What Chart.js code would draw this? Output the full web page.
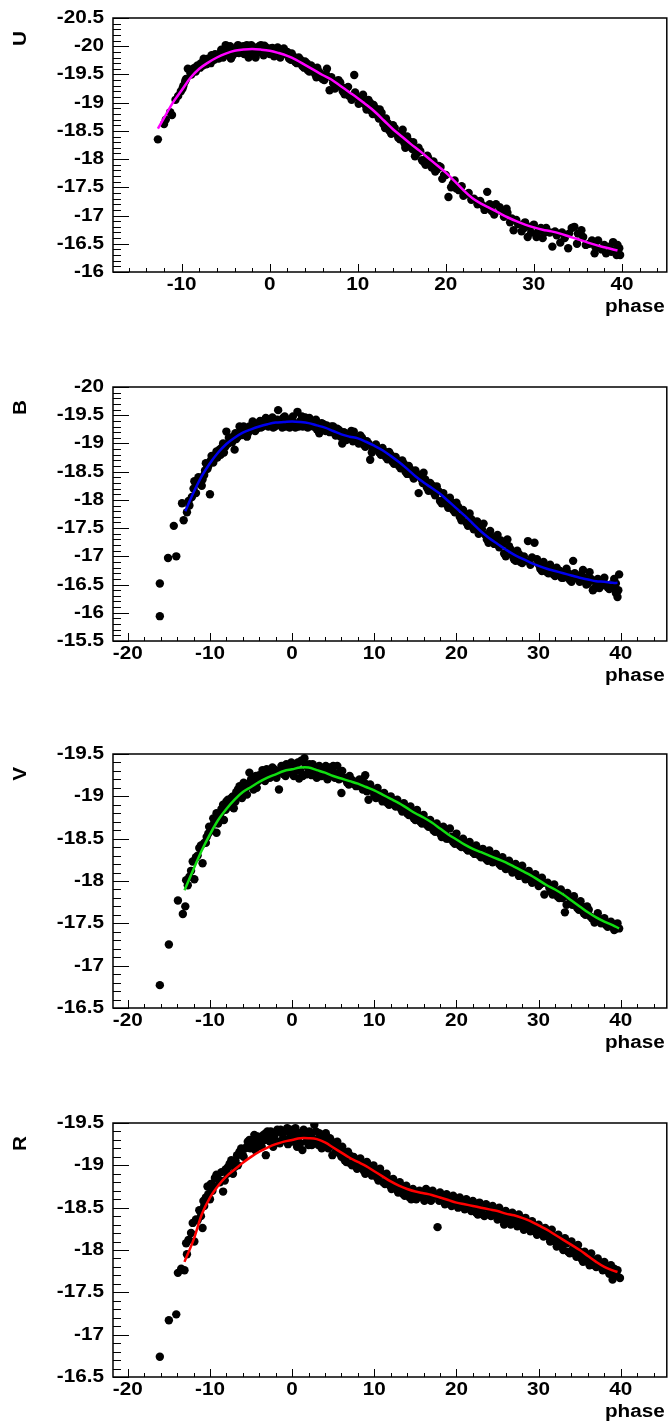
<!DOCTYPE html>
<html>
<head>
<meta charset="utf-8">
<script src="https://cdn.jsdelivr.net/npm/chart.js@4/dist/chart.umd.min.js"></script>
<style>
  html, body { margin: 0; padding: 0; background: #fff; overflow: hidden; }
  body { width: 671px; height: 1426px; position: relative; }
  canvas { position: absolute; left: 0; }
</style>
</head>
<body>
<canvas id="panelU" width="671" height="340" style="top:0px"></canvas>
<canvas id="panelB" width="671" height="340" style="top:369px"></canvas>
<canvas id="panelV" width="671" height="340" style="top:736px"></canvas>
<canvas id="panelR" width="671" height="340" style="top:1105px"></canvas>
<script>
// tick labels
const phaseTicks = [-20, -10, 0, 10, 20, 30, 40];
const uTicks = [-20.5, -20, -19.5, -19, -18.5, -18, -17.5, -17, -16.5, -16];
const bTicks = [-20, -19.5, -19, -18.5, -18, -17.5, -17, -16.5, -16, -15.5];
const vTicks = [-19.5, -19, -18.5, -18, -17.5, -17, -16.5];
const rTicks = [-19.5, -19, -18.5, -18, -17.5, -17, -16.5];

// observations [phase, mag]
const uObs = [[-12.7,-18.35],[-12.0,-18.62],[-11.8,-18.7],[-11.3,-18.83],[-11.1,-18.78],[-10.4,-19.12],[-10.1,-19.2],[-9.8,-19.3],[-9.6,-19.38],[-9.3,-19.6],[-9.0,-19.52],[-8.7,-19.6],[-8.4,-19.55],[-8.2,-19.66],[-7.8,-19.7],[-7.5,-19.78],[-7.2,-19.68],[-6.9,-19.74],[-6.6,-19.84],[-6.3,-19.76],[-6.0,-19.82],[-5.6,-19.88],[-5.3,-19.8],[-5.0,-20.02],[-4.7,-19.95],[-4.4,-19.78],[-4.1,-19.9],[-3.8,-19.96],[-3.5,-19.88],[-3.2,-19.98],[-2.9,-19.86],[-2.6,-20.02],[-2.3,-19.92],[-2.0,-19.84],[-1.8,-19.98],[-1.5,-19.9],[-1.2,-20.0],[-0.9,-19.88],[-0.6,-20.01],[-0.3,-19.93],[0.0,-19.86],[0.3,-19.97],[0.7,-19.9],[1.0,-19.84],[1.4,-19.92],[1.8,-19.86],[2.2,-19.78],[2.5,-19.87],[2.9,-19.72],[3.3,-19.8],[3.7,-19.65],[4.0,-19.73],[4.3,-19.58],[4.7,-19.66],[5.1,-19.52],[5.4,-19.62],[5.8,-19.5],[6.2,-19.4],[6.5,-19.6],[6.8,-19.22],[7.2,-19.35],[7.6,-19.28],[8.0,-19.36],[8.3,-19.2],[8.7,-19.25],[9.0,-19.12],[9.6,-19.49],[9.9,-19.1],[10.3,-19.0],[10.6,-19.14],[10.9,-18.95],[11.2,-19.05],[11.5,-18.86],[11.8,-18.96],[12.2,-18.78],[12.5,-18.88],[12.9,-18.62],[13.2,-18.72],[13.6,-18.5],[14.0,-18.6],[14.4,-18.45],[14.8,-18.35],[15.1,-18.52],[15.4,-18.2],[15.8,-18.32],[16.2,-18.18],[16.5,-18.05],[16.9,-18.2],[17.3,-17.98],[17.7,-17.9],[18.0,-18.02],[18.4,-17.85],[18.8,-17.78],[19.2,-17.88],[19.6,-17.65],[20.0,-17.72],[20.3,-17.33],[20.6,-17.5],[21.0,-17.62],[21.5,-17.45],[22.0,-17.35],[22.6,-17.4],[23.2,-17.3],[23.6,-17.2],[24.2,-17.18],[24.7,-17.42],[25.2,-17.08],[25.7,-17.2],[26.1,-17.15],[26.6,-16.98],[27.0,-17.05],[27.3,-16.88],[27.7,-16.74],[28.2,-16.85],[28.6,-16.72],[29.0,-16.88],[29.3,-16.62],[29.7,-16.7],[30.0,-16.84],[30.5,-16.72],[31.0,-16.6],[31.4,-16.78],[31.8,-16.7],[32.1,-16.45],[32.6,-16.65],[33.0,-16.52],[33.5,-16.6],[33.9,-16.42],[34.3,-16.78],[34.6,-16.8],[35.0,-16.68],[35.4,-16.74],[35.9,-16.48],[36.3,-16.5],[36.9,-16.33],[37.3,-16.56],[37.7,-16.4],[38.2,-16.33],[38.6,-16.45],[39.0,-16.53],[39.2,-16.38],[39.4,-16.3],[39.7,-16.42],[39.8,-16.3],
  [-10.7,-19.05],[-9.9,-19.25],[-9.5,-19.42],[-8.9,-19.5],[-8.5,-19.62],[-7.9,-19.62],[-7.6,-19.66],[-7.0,-19.78],[-6.7,-19.7],[-6.2,-19.86],[-5.8,-19.78],[-5.5,-19.94],[-5.1,-19.85],[-4.8,-19.9],[-4.5,-20.0],[-4.2,-19.84],[-3.9,-19.88],[-3.6,-20.02],[-3.3,-19.9],[-3.0,-20.0],[-2.7,-19.92],[-2.4,-19.8],[-2.1,-20.02],[-1.6,-19.8],[-1.3,-19.94],[-1.0,-20.02],[-0.7,-19.84],[-0.4,-19.98],[0.1,-19.96],[0.5,-19.82],[0.9,-19.98],[1.2,-19.8],[1.6,-19.96],[2.0,-19.9],[2.4,-19.76],[2.7,-19.82],[3.1,-19.7],[3.5,-19.76],[3.9,-19.62],[4.2,-19.7],[4.5,-19.55],[4.9,-19.6],[5.3,-19.45],[5.6,-19.55],[6.0,-19.42],[6.4,-19.5],[7.0,-19.45],[7.4,-19.25],[7.8,-19.4],[8.2,-19.28],[8.5,-19.15],[8.9,-19.28],[9.3,-19.05],[9.7,-19.18],[10.1,-18.98],[10.5,-19.08],[11.0,-18.88],[11.4,-19.0],[11.7,-18.8],[12.0,-18.9],[12.4,-18.72],[12.7,-18.82],[13.1,-18.55],[13.4,-18.64],[13.8,-18.45],[14.2,-18.55],[14.6,-18.38],[15.0,-18.46],[15.3,-18.28],[15.6,-18.4],[16.0,-18.22],[16.3,-18.3],[16.7,-18.1],[17.1,-18.14],[17.5,-17.95],[17.9,-18.06],[18.2,-17.92],[18.6,-17.96],[19.0,-17.82],[19.4,-17.86],[19.8,-17.72],[20.8,-17.56],[21.2,-17.48],[21.8,-17.52],[22.3,-17.38],[22.9,-17.28],[23.9,-17.26],[24.4,-17.1],[25.0,-17.2],[25.5,-17.02],[26.3,-17.08],[26.9,-17.12],[27.5,-16.95],[28.0,-16.92],[28.9,-16.78],[29.5,-16.8],[30.3,-16.62],[30.8,-16.78],[31.2,-16.7],[32.4,-16.72],[33.2,-16.7],[34.0,-16.68],[34.9,-16.5],[35.6,-16.62],[36.6,-16.56],[37.0,-16.44],[38.0,-16.48],[38.8,-16.36],[39.5,-16.48]];

const bObs = [[-16.1,-15.94],[-16.1,-16.52],[-15.1,-16.97],[-14.1,-17.0],[-14.4,-17.54],[-13.4,-17.94],[-13.2,-17.64],[-12.8,-17.78],[-12.5,-17.9],[-12.2,-18.05],[-11.9,-18.33],[-11.7,-18.12],[-11.5,-18.3],[-11.2,-18.35],[-10.9,-18.36],[-10.6,-18.52],[-10.5,-18.65],[-10.0,-18.1],[-10.2,-18.6],[-9.9,-18.7],[-9.6,-18.66],[-9.4,-18.78],[-9.1,-18.75],[-8.85,-18.89],[-8.6,-18.92],[-8.3,-18.84],[-8.0,-19.21],[-7.8,-19.0],[-7.5,-19.06],[-7.0,-18.89],[-7.2,-19.12],[-6.8,-19.08],[-6.4,-19.3],[-6.1,-19.15],[-5.8,-19.22],[-5.5,-19.12],[-5.2,-19.3],[-4.8,-19.39],[-4.5,-19.22],[-4.2,-19.35],[-3.8,-19.28],[-3.5,-19.4],[-3.2,-19.45],[-2.9,-19.3],[-2.6,-19.42],[-2.3,-19.28],[-2.0,-19.38],[-1.7,-19.59],[-1.4,-19.32],[-1.1,-19.45],[-0.8,-19.3],[-0.5,-19.42],[-0.2,-19.35],[0.1,-19.48],[0.4,-19.28],[0.65,-19.56],[1.0,-19.4],[1.3,-19.3],[1.6,-19.46],[2.1,-19.45],[2.4,-19.32],[2.7,-19.4],[3.0,-19.25],[3.3,-19.18],[3.6,-19.36],[3.9,-19.26],[4.2,-19.32],[4.6,-19.2],[5.0,-19.3],[5.3,-19.14],[5.7,-19.24],[6.1,-19.0],[6.4,-19.18],[6.8,-19.1],[7.2,-19.22],[7.5,-19.21],[7.9,-19.05],[8.3,-19.14],[8.7,-18.98],[9.1,-19.04],[9.5,-18.71],[9.8,-18.9],[10.2,-18.98],[10.6,-18.84],[11.0,-18.92],[11.4,-18.76],[11.8,-18.85],[12.2,-18.68],[12.6,-18.76],[13.0,-18.6],[13.4,-18.7],[13.8,-18.5],[14.2,-18.6],[14.6,-18.44],[15.0,-18.52],[15.4,-18.12],[15.7,-18.38],[16.0,-18.48],[16.4,-18.22],[16.8,-18.3],[17.2,-18.14],[17.6,-18.24],[18.0,-17.98],[18.4,-18.12],[18.8,-17.92],[19.2,-18.04],[19.6,-17.82],[20.0,-17.95],[20.4,-17.7],[20.8,-17.82],[21.2,-17.6],[21.6,-17.76],[22.1,-17.48],[22.5,-17.62],[22.9,-17.52],[23.3,-17.58],[23.7,-17.3],[24.1,-17.45],[24.6,-17.22],[25.0,-17.38],[25.4,-17.28],[25.8,-17.05],[26.2,-17.3],[26.6,-17.12],[27.0,-16.95],[27.4,-17.1],[27.8,-16.9],[28.2,-17.0],[28.7,-17.27],[29.0,-16.85],[29.5,-17.24],[29.8,-16.95],[30.2,-16.78],[30.6,-16.9],[31.0,-16.72],[31.4,-16.85],[31.8,-16.68],[32.2,-16.8],[32.6,-16.74],[33.0,-16.62],[33.4,-16.78],[33.8,-16.58],[34.2,-16.92],[34.6,-16.64],[35.0,-16.55],[35.4,-16.76],[35.8,-16.5],[36.2,-16.72],[36.8,-16.43],[37.2,-16.6],[37.6,-16.48],[38.0,-16.62],[38.4,-16.45],[38.8,-16.5],[39.2,-16.6],[39.6,-16.28],[39.8,-16.68],[39.7,-16.4],
  [-12.6,-17.98],[-12.0,-18.2],[-11.4,-18.4],[-11.0,-18.25],[-10.7,-18.44],[-10.3,-18.55],[-9.8,-18.78],[-9.5,-18.72],[-9.2,-18.86],[-8.7,-18.8],[-8.4,-19.0],[-8.1,-18.95],[-7.7,-19.1],[-7.3,-19.02],[-6.9,-19.18],[-6.6,-19.12],[-6.2,-19.22],[-5.9,-19.3],[-5.6,-19.26],[-5.3,-19.2],[-4.9,-19.28],[-4.6,-19.35],[-4.3,-19.26],[-3.9,-19.4],[-3.6,-19.3],[-3.3,-19.36],[-3.0,-19.42],[-2.7,-19.34],[-2.4,-19.46],[-2.1,-19.3],[-1.8,-19.42],[-1.5,-19.38],[-1.2,-19.28],[-0.9,-19.48],[-0.6,-19.36],[-0.3,-19.28],[0.0,-19.42],[0.3,-19.36],[0.8,-19.3],[1.2,-19.48],[1.5,-19.34],[1.9,-19.28],[2.2,-19.4],[2.6,-19.3],[2.9,-19.42],[3.2,-19.34],[3.5,-19.22],[3.8,-19.34],[4.1,-19.22],[4.4,-19.28],[4.8,-19.3],[5.2,-19.2],[5.5,-19.26],[5.9,-19.12],[6.3,-19.2],[6.6,-19.06],[7.0,-19.16],[7.4,-19.04],[7.7,-19.12],[8.1,-19.0],[8.5,-19.1],[8.9,-18.94],[9.3,-19.0],[9.7,-18.84],[10.0,-18.92],[10.4,-18.9],[10.8,-18.8],[11.2,-18.86],[11.6,-18.72],[12.0,-18.8],[12.4,-18.64],[12.8,-18.7],[13.2,-18.56],[13.6,-18.64],[14.0,-18.46],[14.4,-18.54],[14.8,-18.38],[15.2,-18.46],[15.9,-18.3],[16.2,-18.36],[16.6,-18.16],[17.0,-18.26],[17.4,-18.08],[17.8,-18.16],[18.2,-17.94],[18.6,-18.04],[19.0,-17.86],[19.4,-17.96],[19.8,-17.78],[20.2,-17.88],[20.6,-17.64],[21.0,-17.74],[21.4,-17.54],[21.8,-17.66],[22.3,-17.56],[22.7,-17.4],[23.1,-17.48],[23.5,-17.38],[23.9,-17.24],[24.4,-17.34],[24.8,-17.3],[25.2,-17.16],[25.6,-17.22],[26.0,-17.0],[26.4,-17.18],[26.8,-17.02],[27.2,-16.92],[27.6,-17.04],[28.0,-16.88],[28.4,-16.92],[29.2,-16.98],[30.0,-16.86],[30.4,-16.74],[30.8,-16.82],[31.2,-16.7],[31.6,-16.78],[32.0,-16.65],[32.4,-16.7],[32.8,-16.62],[33.2,-16.68],[33.6,-16.7],[34.0,-16.55],[34.4,-16.7],[34.8,-16.6],[35.2,-16.68],[35.6,-16.62],[36.0,-16.52],[36.4,-16.6],[36.6,-16.4],[37.0,-16.52],[37.4,-16.44],[37.8,-16.55],[38.2,-16.5],[38.6,-16.42],[39.0,-16.45],[39.4,-16.35],[39.4,-16.52]];

const vObs = [[-16.1,-16.77],[-15.0,-17.25],[-13.9,-17.77],[-13.3,-17.61],[-13.0,-17.7],[-12.9,-18.01],[-12.5,-18.05],[-11.9,-18.02],[-12.1,-18.23],[-11.7,-18.28],[-11.3,-18.39],[-10.9,-18.21],[-10.7,-18.45],[-10.4,-18.52],[-10.1,-18.64],[-9.8,-18.6],[-9.5,-18.68],[-9.2,-18.57],[-9.2,-18.8],[-8.9,-18.76],[-8.6,-18.85],[-8.3,-18.72],[-8.0,-18.94],[-7.7,-18.9],[-7.4,-18.98],[-7.1,-18.86],[-6.8,-19.05],[-6.4,-19.12],[-6.1,-18.98],[-5.8,-19.1],[-5.5,-19.02],[-5.2,-19.28],[-4.9,-19.15],[-4.6,-19.2],[-4.3,-19.1],[-4.0,-19.25],[-3.6,-19.31],[-3.3,-19.18],[-3.0,-19.28],[-2.7,-19.22],[-2.4,-19.34],[-2.1,-19.24],[-1.8,-19.3],[-1.6,-19.08],[-1.3,-19.36],[-1.0,-19.26],[-0.7,-19.38],[-0.4,-19.3],[-0.1,-19.4],[0.2,-19.24],[0.5,-19.38],[0.85,-19.21],[1.1,-19.42],[1.5,-19.45],[1.8,-19.26],[2.1,-19.38],[2.4,-19.25],[2.7,-19.34],[3.0,-19.22],[3.3,-19.36],[3.6,-19.24],[4.0,-19.32],[4.3,-19.2],[4.6,-19.34],[4.9,-19.31],[5.2,-19.22],[5.5,-19.36],[5.8,-19.28],[6.0,-19.04],[6.3,-19.22],[6.7,-19.16],[7.0,-19.24],[7.4,-19.18],[7.8,-19.12],[8.2,-19.2],[8.6,-19.08],[8.9,-19.25],[9.3,-18.96],[9.6,-19.1],[10.0,-19.02],[10.4,-19.1],[10.8,-18.98],[11.2,-19.04],[11.6,-18.92],[12.0,-19.0],[12.4,-18.9],[12.8,-18.96],[13.2,-18.86],[13.6,-18.92],[14.0,-18.8],[14.4,-18.88],[14.8,-18.74],[15.2,-18.84],[15.6,-18.7],[16.0,-18.78],[16.4,-18.66],[16.8,-18.72],[17.2,-18.6],[17.6,-18.68],[18.0,-18.56],[18.4,-18.64],[18.8,-18.5],[19.2,-18.62],[19.6,-18.46],[20.0,-18.56],[20.4,-18.42],[20.8,-18.5],[21.2,-18.38],[21.6,-18.46],[22.0,-18.34],[22.4,-18.42],[22.8,-18.3],[23.2,-18.38],[23.6,-18.26],[24.0,-18.36],[24.4,-18.22],[24.8,-18.32],[25.2,-18.2],[25.6,-18.28],[26.0,-18.14],[26.4,-18.24],[26.8,-18.1],[27.2,-18.2],[27.6,-18.06],[28.0,-18.18],[28.4,-18.02],[28.8,-18.12],[29.2,-17.98],[29.6,-18.08],[30.0,-17.94],[30.4,-18.04],[30.7,-17.84],[31.1,-17.98],[31.5,-17.88],[31.9,-17.96],[32.3,-17.82],[32.7,-17.9],[33.2,-17.63],[33.5,-17.86],[33.9,-17.74],[34.3,-17.82],[34.7,-17.68],[35.1,-17.76],[35.5,-17.62],[35.9,-17.7],[36.3,-17.58],[36.8,-17.51],[37.2,-17.62],[37.6,-17.5],[38.0,-17.56],[38.4,-17.46],[38.8,-17.52],[39.2,-17.42],[39.6,-17.5],[39.8,-17.44],
  [-12.7,-17.95],[-12.3,-18.12],[-11.5,-18.3],[-11.1,-18.42],[-10.5,-18.45],[-10.2,-18.56],[-9.6,-18.74],[-9.0,-18.68],[-8.7,-18.8],[-8.4,-18.9],[-8.1,-18.84],[-7.8,-18.96],[-7.5,-18.88],[-7.2,-19.0],[-6.9,-18.94],[-6.6,-19.08],[-6.2,-19.06],[-5.9,-19.16],[-5.6,-19.1],[-5.3,-19.15],[-5.0,-19.2],[-4.7,-19.08],[-4.4,-19.24],[-4.1,-19.18],[-3.8,-19.22],[-3.5,-19.26],[-3.1,-19.32],[-2.8,-19.24],[-2.5,-19.28],[-2.2,-19.32],[-1.9,-19.22],[-1.4,-19.28],[-1.1,-19.34],[-0.8,-19.24],[-0.5,-19.36],[-0.2,-19.28],[0.1,-19.34],[0.4,-19.3],[0.7,-19.4],[1.0,-19.3],[1.3,-19.24],[1.6,-19.38],[1.9,-19.34],[2.2,-19.28],[2.5,-19.38],[2.8,-19.26],[3.1,-19.32],[3.4,-19.24],[3.8,-19.28],[4.1,-19.36],[4.4,-19.26],[4.7,-19.24],[5.0,-19.36],[5.4,-19.26],[5.7,-19.2],[6.1,-19.3],[6.5,-19.2],[6.9,-19.14],[7.2,-19.2],[7.6,-19.14],[8.0,-19.18],[8.4,-19.12],[8.8,-19.16],[9.1,-19.06],[9.5,-19.14],[9.9,-19.06],[10.2,-18.98],[10.6,-19.04],[11.0,-18.94],[11.4,-18.98],[11.8,-18.9],[12.2,-18.96],[12.6,-18.88],[13.0,-18.9],[13.4,-18.82],[13.8,-18.86],[14.2,-18.78],[14.6,-18.82],[15.0,-18.72],[15.4,-18.78],[15.8,-18.68],[16.2,-18.72],[16.6,-18.64],[17.0,-18.66],[17.4,-18.58],[17.8,-18.6],[18.2,-18.52],[18.6,-18.56],[19.0,-18.5],[19.4,-18.52],[19.8,-18.44],[20.2,-18.48],[20.6,-18.4],[21.0,-18.44],[21.4,-18.36],[21.8,-18.4],[22.2,-18.32],[22.6,-18.36],[23.0,-18.28],[23.4,-18.3],[23.8,-18.24],[24.2,-18.3],[24.6,-18.24],[25.0,-18.26],[25.4,-18.18],[25.8,-18.2],[26.2,-18.16],[26.6,-18.18],[27.0,-18.12],[27.4,-18.14],[27.8,-18.08],[28.2,-18.1],[28.6,-18.04],[29.0,-18.06],[29.4,-18.0],[29.8,-18.02],[30.2,-17.96],[30.6,-17.98],[31.3,-17.92],[31.7,-17.84],[32.1,-17.88],[32.5,-17.8],[32.9,-17.8],[33.4,-17.72],[33.8,-17.8],[34.1,-17.72],[34.5,-17.74],[34.9,-17.66],[35.3,-17.7],[35.7,-17.6],[36.1,-17.66],[36.5,-17.56],[37.0,-17.56],[37.4,-17.52],[37.8,-17.55],[38.2,-17.48],[38.6,-17.5],[39.0,-17.46],[39.4,-17.44]];

const rObs = [[-16.1,-16.74],[-15.0,-17.17],[-14.1,-17.24],[-13.9,-17.73],[-13.5,-17.78],[-13.1,-17.76],[-12.9,-18.08],[-12.6,-18.12],[-11.9,-18.1],[-12.1,-18.32],[-11.7,-18.36],[-11.3,-18.47],[-10.9,-18.26],[-10.7,-18.52],[-10.5,-18.62],[-10.3,-18.75],[-10.0,-18.6],[-9.7,-18.7],[-9.4,-18.85],[-9.2,-18.89],[-8.8,-18.8],[-8.4,-18.69],[-8.1,-18.95],[-7.8,-18.98],[-7.6,-19.02],[-7.2,-18.9],[-6.9,-19.06],[-6.6,-19.0],[-6.4,-19.16],[-6.0,-19.12],[-5.7,-19.2],[-5.4,-19.28],[-5.1,-19.2],[-4.8,-19.3],[-4.5,-19.18],[-4.2,-19.34],[-3.9,-19.26],[-3.5,-19.36],[-3.2,-19.12],[-3.2,-19.38],[-2.9,-19.3],[-2.6,-19.4],[-2.3,-19.22],[-2.0,-19.38],[-1.7,-19.28],[-1.4,-19.42],[-1.1,-19.32],[-0.8,-19.4],[-0.5,-19.25],[-0.2,-19.42],[0.0,-19.36],[0.3,-19.4],[0.6,-19.22],[0.9,-19.38],[1.25,-19.18],[1.5,-19.36],[1.8,-19.28],[2.1,-19.4],[2.4,-19.24],[2.7,-19.48],[3.0,-19.3],[3.3,-19.38],[3.6,-19.2],[3.9,-19.34],[4.2,-19.26],[4.6,-19.32],[4.9,-19.12],[5.2,-19.24],[5.5,-19.28],[5.8,-19.14],[6.1,-19.22],[6.4,-19.06],[6.8,-19.16],[7.1,-19.02],[7.5,-19.1],[7.9,-18.96],[8.3,-19.08],[8.7,-18.94],[9.1,-19.04],[9.5,-18.92],[9.9,-19.0],[10.3,-18.86],[10.7,-18.96],[11.1,-18.8],[11.5,-18.9],[11.9,-18.76],[12.3,-18.84],[12.7,-18.72],[13.1,-18.8],[13.5,-18.66],[13.9,-18.76],[14.3,-18.62],[14.7,-18.72],[15.1,-18.6],[15.5,-18.7],[15.9,-18.62],[16.3,-18.72],[16.7,-18.6],[17.1,-18.7],[17.5,-18.64],[17.7,-18.27],[18.0,-18.68],[18.4,-18.58],[18.8,-18.66],[19.2,-18.56],[19.6,-18.64],[20.0,-18.54],[20.4,-18.62],[20.8,-18.52],[21.2,-18.6],[21.6,-18.5],[22.0,-18.58],[22.4,-18.44],[22.8,-18.56],[23.2,-18.42],[23.6,-18.54],[24.0,-18.46],[24.4,-18.52],[24.8,-18.42],[25.2,-18.5],[25.6,-18.36],[26.0,-18.46],[26.4,-18.34],[26.8,-18.44],[27.2,-18.32],[27.6,-18.42],[28.0,-18.3],[28.4,-18.38],[28.8,-18.26],[29.2,-18.34],[29.6,-18.22],[30.0,-18.3],[30.4,-18.2],[30.8,-18.26],[31.2,-18.16],[31.6,-18.24],[32.0,-18.1],[32.4,-18.18],[32.8,-18.04],[33.2,-18.14],[33.6,-17.98],[34.0,-18.1],[34.4,-17.96],[34.8,-18.06],[35.2,-17.9],[35.6,-17.98],[36.0,-17.86],[36.4,-17.96],[36.8,-17.82],[37.2,-17.9],[37.6,-17.8],[38.0,-17.86],[38.4,-17.76],[38.8,-17.82],[39.0,-17.65],[39.3,-17.72],[39.6,-17.76],[39.9,-17.67],
  [-12.8,-17.95],[-12.3,-18.2],[-11.5,-18.35],[-11.1,-18.4],[-10.8,-18.58],[-10.2,-18.66],[-9.9,-18.78],[-9.6,-18.76],[-9.0,-18.84],[-8.6,-18.92],[-8.2,-18.82],[-7.9,-18.9],[-7.4,-19.06],[-7.0,-18.98],[-6.7,-19.12],[-6.2,-19.2],[-5.9,-19.1],[-5.5,-19.22],[-5.2,-19.3],[-4.9,-19.22],[-4.6,-19.36],[-4.3,-19.26],[-4.0,-19.3],[-3.7,-19.22],[-3.4,-19.3],[-3.0,-19.4],[-2.7,-19.28],[-2.4,-19.36],[-2.1,-19.3],[-1.8,-19.42],[-1.5,-19.26],[-1.2,-19.38],[-0.9,-19.3],[-0.6,-19.44],[-0.3,-19.32],[0.1,-19.28],[0.4,-19.44],[0.7,-19.32],[1.0,-19.26],[1.4,-19.42],[1.7,-19.34],[2.0,-19.24],[2.3,-19.36],[2.6,-19.3],[2.9,-19.4],[3.2,-19.24],[3.5,-19.32],[3.8,-19.28],[4.1,-19.38],[4.4,-19.2],[4.7,-19.3],[5.0,-19.24],[5.3,-19.16],[5.6,-19.22],[6.0,-19.1],[6.3,-19.16],[6.6,-19.04],[7.0,-19.12],[7.3,-19.0],[7.7,-19.06],[8.1,-18.98],[8.5,-19.02],[8.9,-18.9],[9.3,-18.98],[9.7,-18.88],[10.1,-18.94],[10.5,-18.82],[10.9,-18.9],[11.3,-18.78],[11.7,-18.84],[12.1,-18.72],[12.5,-18.8],[12.9,-18.68],[13.3,-18.74],[13.7,-18.64],[14.1,-18.7],[14.5,-18.6],[14.9,-18.66],[15.3,-18.62],[15.7,-18.66],[16.1,-18.58],[16.5,-18.68],[16.9,-18.58],[17.3,-18.66],[17.9,-18.58],[18.2,-18.62],[18.6,-18.54],[19.0,-18.62],[19.4,-18.52],[19.8,-18.58],[20.2,-18.5],[20.6,-18.56],[21.0,-18.48],[21.4,-18.56],[21.8,-18.46],[22.2,-18.52],[22.6,-18.42],[23.0,-18.48],[23.4,-18.4],[23.8,-18.5],[24.2,-18.4],[24.6,-18.46],[25.0,-18.36],[25.4,-18.44],[25.8,-18.3],[26.2,-18.4],[26.6,-18.3],[27.0,-18.38],[27.4,-18.28],[27.8,-18.36],[28.2,-18.24],[28.6,-18.32],[29.0,-18.22],[29.4,-18.28],[29.8,-18.18],[30.2,-18.24],[30.6,-18.16],[31.0,-18.2],[31.4,-18.1],[31.8,-18.16],[32.2,-18.04],[32.6,-18.12],[33.0,-18.0],[33.4,-18.08],[33.8,-17.96],[34.2,-18.02],[34.6,-17.92],[35.0,-17.98],[35.4,-17.86],[35.8,-17.92],[36.2,-17.82],[36.6,-17.88],[37.0,-17.8],[37.4,-17.84],[37.8,-17.76],[38.2,-17.82],[38.6,-17.72],[39.2,-17.78],[39.5,-17.7]];

// fitted templates [phase, mag]
const uFit = [[-12.7,-18.54],[-12,-18.73],[-11,-19.0],[-10,-19.22],[-9,-19.44],[-8,-19.6],[-7,-19.71],[-6,-19.8],[-5,-19.87],[-4,-19.92],[-3,-19.94],[-2,-19.95],[-1,-19.94],[0,-19.92],[1,-19.88],[2,-19.83],[3,-19.76],[4,-19.67],[5,-19.58],[6,-19.49],[7,-19.41],[8,-19.3],[9,-19.19],[10,-19.08],[11,-18.96],[12,-18.83],[13,-18.68],[14,-18.53],[15,-18.4],[16,-18.27],[17,-18.15],[18,-18.02],[19,-17.89],[20,-17.76],[21,-17.61],[22,-17.45],[23,-17.31],[24,-17.21],[25,-17.13],[26,-17.05],[27,-16.97],[28,-16.9],[29,-16.84],[30,-16.79],[31,-16.75],[32,-16.72],[33,-16.68],[34,-16.63],[35,-16.58],[36,-16.53],[37,-16.48],[38,-16.44],[39,-16.4],[39.5,-16.38]];
const bFit = [[-13,-17.8],[-12,-18.13],[-11,-18.42],[-10,-18.65],[-9,-18.84],[-8,-18.99],[-7,-19.1],[-6,-19.19],[-5,-19.25],[-4,-19.3],[-3,-19.34],[-2,-19.37],[-1,-19.38],[0,-19.39],[1,-19.38],[2,-19.36],[3,-19.32],[4,-19.28],[5,-19.22],[6,-19.16],[7,-19.12],[8,-19.09],[9,-19.03],[10,-18.96],[11,-18.88],[12,-18.78],[13,-18.67],[14,-18.55],[15,-18.42],[16,-18.31],[17,-18.21],[18,-18.11],[19,-17.98],[20,-17.85],[21,-17.72],[22,-17.58],[23,-17.44],[24,-17.32],[25,-17.22],[26,-17.12],[27,-17.03],[28,-16.96],[29,-16.89],[30,-16.83],[31,-16.78],[32,-16.74],[33,-16.7],[34,-16.66],[35,-16.62],[36,-16.59],[37,-16.56],[38,-16.55],[39,-16.53],[39.6,-16.53]];
const vFit = [[-13.1,-17.89],[-12,-18.14],[-11,-18.36],[-10,-18.55],[-9,-18.72],[-8,-18.85],[-7,-18.96],[-6,-19.05],[-5,-19.11],[-4,-19.17],[-3,-19.22],[-2,-19.26],[-1,-19.3],[0,-19.32],[1,-19.34],[2,-19.34],[3,-19.31],[4,-19.28],[5,-19.24],[6,-19.21],[7,-19.18],[8,-19.15],[9,-19.11],[10,-19.07],[11,-19.02],[12,-18.97],[13,-18.92],[14,-18.86],[15,-18.8],[16,-18.75],[17,-18.69],[18,-18.62],[19,-18.55],[20,-18.49],[21,-18.43],[22,-18.38],[23,-18.34],[24,-18.3],[25,-18.26],[26,-18.22],[27,-18.17],[28,-18.12],[29,-18.07],[30,-18.01],[31,-17.95],[32,-17.9],[33,-17.84],[34,-17.77],[35,-17.7],[36,-17.63],[37,-17.57],[38,-17.52],[39,-17.48],[39.8,-17.44]];
const rFit = [[-13.1,-17.86],[-12,-18.12],[-11,-18.42],[-10,-18.62],[-9,-18.76],[-8,-18.87],[-7,-18.95],[-6,-19.03],[-5,-19.1],[-4,-19.16],[-3,-19.21],[-2,-19.25],[-1,-19.28],[0,-19.3],[1,-19.32],[2,-19.32],[3,-19.31],[4,-19.27],[5,-19.21],[6,-19.15],[7,-19.09],[8,-19.04],[9,-18.99],[10,-18.93],[11,-18.87],[12,-18.81],[13,-18.76],[14,-18.72],[15,-18.69],[16,-18.67],[17,-18.65],[18,-18.62],[19,-18.59],[20,-18.56],[21,-18.54],[22,-18.52],[23,-18.5],[24,-18.48],[25,-18.46],[26,-18.43],[27,-18.41],[28,-18.38],[29,-18.34],[30,-18.29],[31,-18.24],[32,-18.18],[33,-18.12],[34,-18.06],[35,-18.0],[36,-17.93],[37,-17.86],[38,-17.8],[39,-17.76],[39.6,-17.74]];

const FONT = 'bold 18px "Liberation Sans", Arial, sans-serif';
const STRETCH = 1.15;

function stretchedText(ctx, text, x, y, align, baseline) {
  ctx.save();
  ctx.translate(x, y);
  ctx.scale(STRETCH, 1);
  ctx.textAlign = align;
  ctx.textBaseline = baseline;
  ctx.fillText(text, 0, 0);
  ctx.restore();
}

// ROOT-style frame: inward ticks, labels and titles
const rootFrame = {
  id: 'rootFrame',
  afterDraw(chart, args, opts) {
    const { ctx, chartArea: a } = chart;
    const x = chart.scales.x, y = chart.scales.y;
    ctx.save();
    ctx.strokeStyle = '#000';
    ctx.fillStyle = '#000';
    ctx.lineWidth = 1.5;
    ctx.strokeRect(a.left, a.top, a.right - a.left, a.bottom - a.top);

    ctx.lineWidth = 1;
    ctx.beginPath();
    for (let k = Math.ceil(y.min * 10 - 1e-6); k <= Math.floor(y.max * 10 + 1e-6); k++) {
      const py = Math.round(y.getPixelForValue(k / 10)) + 0.5;
      const len = k % 5 === 0 ? 16 : 8;
      ctx.moveTo(a.left, py);
      ctx.lineTo(a.left + len, py);
    }
    for (let k = Math.ceil(x.min / 2); k * 2 <= x.max; k++) {
      const px = Math.round(x.getPixelForValue(k * 2)) + 0.5;
      const len = (k * 2) % 10 === 0 ? 8 : 4;
      ctx.moveTo(px, a.bottom);
      ctx.lineTo(px, a.bottom - len);
    }
    ctx.stroke();

    ctx.font = FONT;
    opts.yTicks.forEach(v => {
      stretchedText(ctx, String(v), a.left - 9, y.getPixelForValue(v), 'right', 'middle');
    });
    phaseTicks.filter(v => v >= x.min && v <= x.max).forEach(v => {
      stretchedText(ctx, String(v), x.getPixelForValue(v), a.bottom + 13, 'center', 'middle');
    });
    stretchedText(ctx, 'phase', a.right - 2, a.bottom + 40, 'right', 'alphabetic');

    ctx.save();
    ctx.translate(21, a.top + 13);
    ctx.rotate(-Math.PI / 2);
    ctx.scale(STRETCH, 1);
    ctx.textAlign = 'right';
    ctx.textBaseline = 'middle';
    ctx.fillText(opts.band, 0, 0);
    ctx.restore();
    ctx.restore();
  }
};

function makePanel(id, band, obs, fit, color, yTicks, xMin, xMax) {
  new Chart(document.getElementById(id), {
    type: 'scatter',
    data: {
      datasets: [
        {
          data: fit.map(([p, m]) => ({ x: p, y: m })),
          showLine: true,
          borderColor: color,
          borderWidth: 2.5,
          pointRadius: 0,
          tension: 0.35,
          order: 0
        },
        {
          data: obs.map(([p, m]) => ({ x: p, y: m })),
          backgroundColor: '#000',
          borderWidth: 0,
          pointRadius: 4.2,
          order: 1
        }
      ]
    },
    options: {
      responsive: false,
      animation: false,
      devicePixelRatio: 1,
      layout: { padding: { top: 18, right: 2, left: 0, bottom: 0 } },
      plugins: {
        legend: { display: false },
        tooltip: { enabled: false },
        rootFrame: { band: band, yTicks: yTicks }
      },
      scales: {
        x: {
          type: 'linear', min: xMin, max: xMax,
          grid: { display: false }, border: { display: false },
          ticks: { display: false },
          afterFit: s => { s.height = 68; }
        },
        y: {
          type: 'linear', reverse: true,
          min: yTicks[0], max: yTicks[yTicks.length - 1],
          grid: { display: false }, border: { display: false },
          ticks: { display: false },
          afterFit: s => { s.width = 113; }
        }
      }
    },
    plugins: [rootFrame]
  });
}

makePanel('panelU', 'U', uObs, uFit, '#ff00ff', uTicks, -17.8, 45.1);
makePanel('panelB', 'B', bObs, bFit, '#0000ee', bTicks, -21.8, 45.6);
makePanel('panelV', 'V', vObs, vFit, '#11dd11', vTicks, -21.8, 45.6);
makePanel('panelR', 'R', rObs, rFit, '#ff0000', rTicks, -21.8, 45.6);
</script>
</body>
</html>
